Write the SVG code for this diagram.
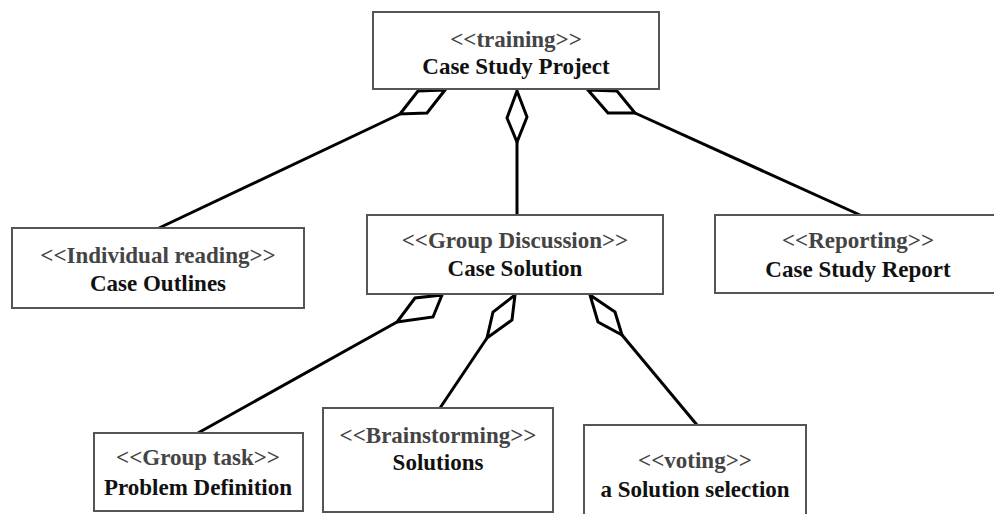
<svg xmlns="http://www.w3.org/2000/svg" width="994" height="514" viewBox="0 0 994 514" font-family="Liberation Serif, DejaVu Serif, serif">
<style>
.box{fill:#fff;stroke:#555;stroke-width:2}
.st{fill:#444;font-weight:bold;font-size:23px;text-anchor:middle}
.nm{fill:#111;font-weight:bold;font-size:23px;text-anchor:middle}
.ln{stroke:#000;stroke-width:3;fill:none}
.dm{stroke:#000;stroke-width:3;fill:#fff;stroke-linejoin:miter}
</style>
<rect width="994" height="514" fill="#fff"/>
<g id="connectors">
<line class="ln" x1="400" y1="114" x2="159" y2="228"/>
<polygon class="dm" points="445,90 418,91 400,114 427,113"/>
<line class="ln" x1="517" y1="142" x2="517" y2="215"/>
<polygon class="dm" points="517,91 507,118 517,142 527,117"/>
<line class="ln" x1="635" y1="113" x2="860" y2="215"/>
<polygon class="dm" points="588,90 617,91 635,113 608,113"/>
<line class="ln" x1="397" y1="322" x2="198" y2="433"/>
<polygon class="dm" points="442,295 415,298 397,322 433,317"/>
<line class="ln" x1="487" y1="338" x2="440" y2="408"/>
<polygon class="dm" points="515,295 493,312 487,338 512,320"/>
<line class="ln" x1="622" y1="335" x2="697" y2="425"/>
<polygon class="dm" points="590,295 615,312 622,335 598,322"/>
</g>
<g id="training">
<rect class="box" x="373" y="12" width="286" height="77"/>
<text class="st" x="516" y="47">&lt;&lt;training&gt;&gt;</text>
<text class="nm" x="516" y="74">Case Study Project</text>
</g>
<g id="individual">
<rect class="box" x="12" y="228" width="292" height="80"/>
<text class="st" x="158" y="263">&lt;&lt;Individual reading&gt;&gt;</text>
<text class="nm" x="158" y="291">Case Outlines</text>
</g>
<g id="group">
<rect class="box" x="367" y="215" width="296" height="79"/>
<text class="st" x="515" y="248">&lt;&lt;Group Discussion&gt;&gt;</text>
<text class="nm" x="515" y="276">Case Solution</text>
</g>
<g id="reporting">
<rect class="box" x="715" y="215" width="290" height="78"/>
<text class="st" x="858" y="248">&lt;&lt;Reporting&gt;&gt;</text>
<text class="nm" x="858" y="277">Case Study Report</text>
</g>
<g id="grouptask">
<rect class="box" x="94" y="433" width="209" height="78"/>
<text class="st" x="198" y="465">&lt;&lt;Group task&gt;&gt;</text>
<text class="nm" x="198" y="495">Problem Definition</text>
</g>
<g id="brainstorming">
<rect class="box" x="323" y="408" width="230" height="104"/>
<text class="st" x="438" y="443">&lt;&lt;Brainstorming&gt;&gt;</text>
<text class="nm" x="438" y="470">Solutions</text>
</g>
<g id="voting">
<rect class="box" x="584" y="425" width="222" height="100"/>
<text class="st" x="695" y="468">&lt;&lt;voting&gt;&gt;</text>
<text class="nm" x="695" y="497">a Solution selection</text>
</g>
</svg>
